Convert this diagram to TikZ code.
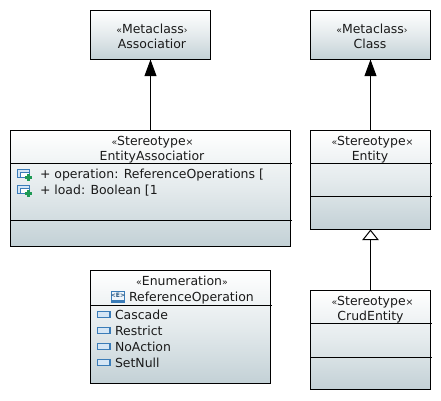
\documentclass[tikz,border=0pt]{standalone}
\usepackage{fontspec}
\setmainfont{DejaVu Sans}
\usetikzlibrary{arrows.meta}
\definecolor{ink}{HTML}{000000}
\definecolor{shade}{HTML}{C3D1D6}
\definecolor{txt}{HTML}{1A1A1A}
\definecolor{iconblue}{HTML}{3A7CB8}
\definecolor{iconpale}{HTML}{D5E6F5}
\definecolor{icongreen}{HTML}{1E9A55}
\tikzset{
  umlbox/.style={draw=ink,line width=0.75pt,top color=white,bottom color=shade,middle color=shade!45!white,inner sep=0pt,outer sep=0pt},
  label/.style={text=txt,font=\fontsize{9.35}{11}\selectfont,inner sep=0pt,outer sep=0pt,anchor=base},
  leftlabel/.style={label,anchor=base west},
  sep/.style={draw=ink,line width=0.75pt},
  assoc/.style={draw=ink,line width=0.75pt,-{Triangle[length=12.5pt,width=9pt,fill=black]}},
  inherit/.style={draw=ink,line width=0.75pt,-{Triangle[open,length=8pt,width=12.5pt,fill=white]}}
}
\newcommand{\gm}[1]{{\fontsize{7}{9}\selectfont #1}}
\newcommand{\umlbox}[5]{% name, x0, y0, w, h
  \node[umlbox,minimum width=#4*0.75pt,minimum height=#5*0.75pt,anchor=north west] (#1) at (#2,#3) {};}
\newcommand{\attricon}[2]{%
  \begin{scope}[shift={(#1,#2)}]
    \draw[iconblue,fill=iconpale,line width=0.7pt] (0,-5) rectangle (11.5,3.5);
    \draw[iconblue,fill=white,line width=0.7pt] (3,-2) rectangle (11.5,3.5);
    \fill[icongreen] (9,0) rectangle (12,7);
    \fill[icongreen] (7,2) rectangle (14,5);
  \end{scope}}
\newcommand{\liticon}[2]{%
  \draw[iconblue,fill=iconpale,line width=0.9pt] (#1,#2-3) rectangle (#1+12.5,#2+3);}
\begin{document}
\begin{tikzpicture}[x=0.75pt,y=-0.75pt]
\useasboundingbox (0,0) rectangle (441,400);
\fill[white] (0,0) rectangle (441,400);
% boxes
\umlbox{assocMeta}{90.5}{10.5}{120}{49}
\umlbox{classMeta}{310.5}{10.5}{120}{49}
\umlbox{entAssoc}{10.5}{130.5}{280}{116}
\umlbox{entity}{310.5}{130.5}{120}{99}
\umlbox{crud}{310.5}{290.5}{120}{99}
\umlbox{enumBox}{90.5}{270.5}{180}{113}
% separators
\draw[sep] (10.5,163.5) -- (291.5,163.5);
\draw[sep] (10.5,220.5) -- (291.5,220.5);
\draw[sep] (310.5,163.5) -- (431.5,163.5);
\draw[sep] (310.5,196.5) -- (431.5,196.5);
\draw[sep] (310.5,323.5) -- (431.5,323.5);
\draw[sep] (310.5,357.5) -- (431.5,357.5);
\draw[sep] (90.5,305.5) -- (271.5,305.5);
% connectors
\draw[assoc] (entAssoc.north) -- (assocMeta.south);
\draw[assoc] (entity.north) -- (classMeta.south);
\draw[inherit] (crud.north) -- (entity.south);
% texts
\node[label] (t1) at (152,33) {\gm{«}Metaclass\gm{›}};
\node[label] (t2) at (152,48.5) {Associatior};
\node[label] (t3) at (372,33) {\gm{«}Metaclass\gm{›}};
\node[label] (t4) at (370,48.5) {Class};
\node[label] (t5) at (152.5,145) {\gm{«}Stereotype\gm{×}};
\node[label] (t6) at (152,160) {EntityAssociatior};
\node[leftlabel] (t7) at (40,178) {+ operation: ReferenceOperations [};
\node[leftlabel] (t8) at (40,194) {+ load: Boolean [1};
\node[label] (t9) at (372.5,145) {\gm{«}Stereotype\gm{×}};
\node[label] (t10) at (370,160) {Entity};
\node[label] (t11) at (372.5,305) {\gm{«}Stereotype\gm{×}};
\node[label] (t12) at (370.5,320) {CrudEntity};
\node[label] (t13) at (182,285) {\gm{«}Enumeration\gm{»}};
\node[leftlabel] (t14) at (129,301.5) {ReferenceOperation};
\node[leftlabel] (t15) at (115,319) {Cascade};
\node[leftlabel] (t16) at (115,335) {Restrict};
\node[leftlabel] (t17) at (115,351) {NoAction};
\node[leftlabel] (t18) at (115,367) {SetNull};
% icons
\attricon{17.5}{174}
\attricon{17.5}{190}
\liticon{97.5}{314.5}
\liticon{97.5}{330.5}
\liticon{97.5}{346.5}
\liticon{97.5}{362.5}
\draw[iconblue,fill=iconpale!40!white,line width=0.8pt] (111.5,291.5) rectangle (124.5,302);
\fill[iconblue] (111.5,300) rectangle (124.5,302);
\node[text=iconblue!70!black,font=\fontsize{4.5}{5}\selectfont\bfseries,inner sep=0pt] (enumGlyph) at (118,295.5) {<E>};
\end{tikzpicture}
\end{document}
